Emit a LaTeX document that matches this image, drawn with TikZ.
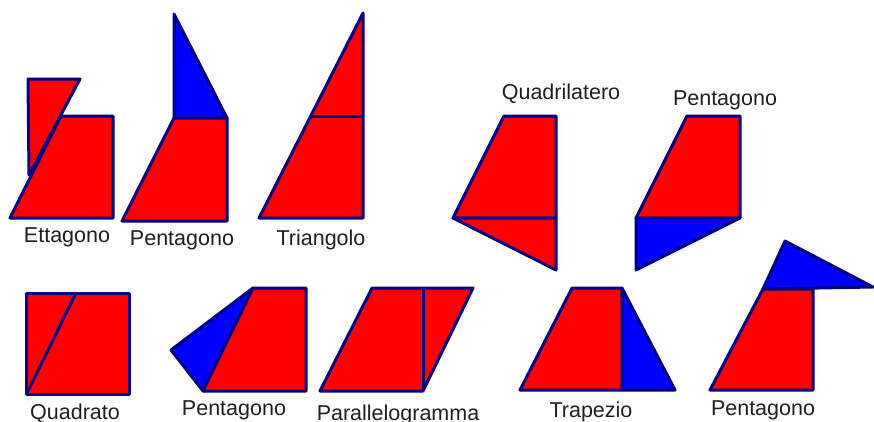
\documentclass[tikz,border=0pt]{standalone}
\usepackage{fontspec}
\setmainfont{Liberation Sans}
\usepackage{tikz}
\usepackage{xcolor}
\definecolor{edgeblue}{RGB}{0,0,128}
\definecolor{piecered}{RGB}{255,0,0}
\definecolor{pieceblue}{RGB}{0,0,255}

\begin{document}
\begin{tikzpicture}[x=1pt,y=-1pt,
  piece/.style={draw=edgeblue,line width=3pt,line join=round},
  redpc/.style={piece,fill=piecered},
  bluepc/.style={piece,fill=pieceblue},
  lbl/.style={anchor=base,inner sep=0pt,text=black!88,
              font=\fontsize{21.5}{25}\selectfont}]

  \useasboundingbox (0,0) rectangle (874,421);

  % ---------- top row ----------
  % ettagono
  \draw[redpc] (28,79) -- (80,79) -- (29,175) -- cycle;
  \draw[redpc] (10,218) -- (61,116) -- (113,116) -- (113,218) -- cycle;
  \node[lbl] (lblEtt) at (67,242) {Ettagono};

  % pentagono
  \draw[bluepc] (174,14) -- (227,118) -- (174,118) -- cycle;
  \draw[redpc] (122,221) -- (174,118) -- (227,118) -- (227,221) -- cycle;
  \node[lbl] (lblPentA) at (182,245) {Pentagono};

  % triangolo
  \draw[redpc] (259,218) -- (363,13) -- (363,218) -- cycle;
  \draw[piece] (311,116) -- (363,116);
  \node[lbl] (lblTri) at (321,245) {Triangolo};

  % quadrilatero
  \draw[redpc] (453,218) -- (504,116) -- (556,116) -- (556,218) -- cycle;
  \draw[redpc] (453,218) -- (556,218) -- (556,270) -- cycle;
  \node[lbl] (lblQuadril) at (561,99) {Quadrilatero};

  % pentagono
  \draw[redpc] (636,218) -- (687,116) -- (740,116) -- (740,218) -- cycle;
  \draw[bluepc] (636,218) -- (740,218) -- (636,270) -- cycle;
  \node[lbl] (lblPentB) at (725,105) {Pentagono};

  % ---------- bottom row ----------
  % quadrato
  \draw[redpc] (26,293) rectangle (129,394);
  \draw[piece] (27,393) -- (76,293);
  \node[lbl] (lblQuadr) at (75,419) {Quadrato};

  % pentagono
  \draw[bluepc] (171,350) -- (253,288) -- (203,391) -- cycle;
  \draw[redpc] (203,391) -- (253,288) -- (306,288) -- (306,391) -- cycle;
  \node[lbl] (lblPentC) at (234,415) {Pentagono};

  % parallelogramma
  \draw[redpc] (320,391) -- (372,288) -- (473,288) -- (423,391) -- cycle;
  \draw[piece] (423,288) -- (423,391);
  \node[lbl] (lblParal) at (398,420) {Parallelogramma};

  % trapezio
  \draw[redpc] (520,390) -- (572,288) -- (622,288) -- (622,390) -- cycle;
  \draw[bluepc] (622,288) -- (675,390) -- (622,390) -- cycle;
  \node[lbl] (lblTrap) at (591,417) {Trapezio};

  % pentagono
  \draw[redpc] (710,390) -- (763,289) -- (813,289) -- (813,390) -- cycle;
  \draw[bluepc] (763,289) -- (785,241) -- (873,287) -- cycle;
  \node[lbl] (lblPentD) at (763,415) {Pentagono};

\end{tikzpicture}
\end{document}
